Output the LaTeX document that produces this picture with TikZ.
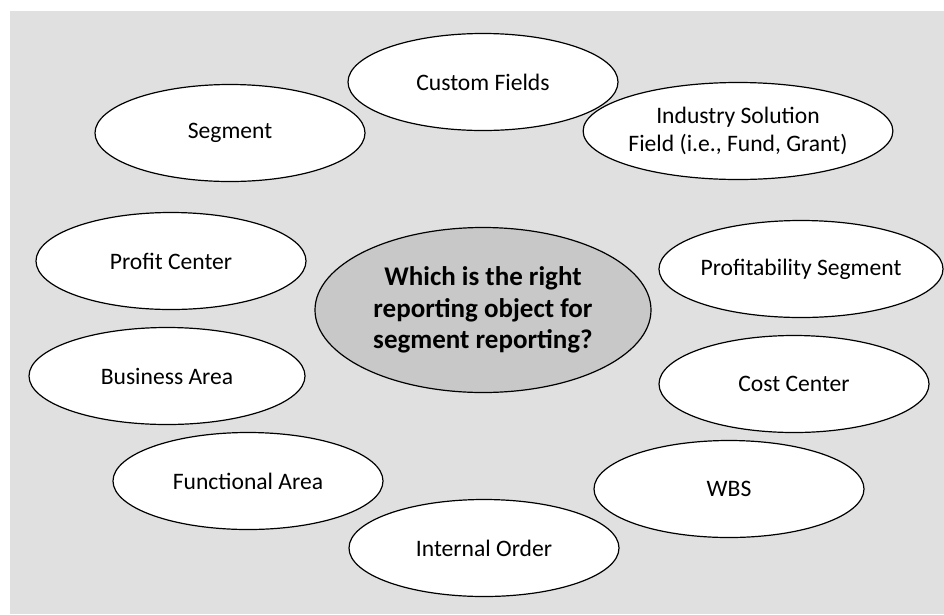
\documentclass[tikz,border=0pt]{standalone}
\usepackage{fontspec}
\setmainfont{Carlito}
\usepackage{tikz}
\usetikzlibrary{shapes.geometric}
\definecolor{backgray}{RGB}{224,224,224}
\definecolor{hubgray}{RGB}{200,200,200}
\tikzset{field/.style = {draw, ellipse, fill = white, line width = 1.2, inner sep = 0,
    minimum width = 270, minimum height = 97, align = center,
    font = \fontsize{23.6}{27.5}\selectfont}}
\tikzset{hub/.style = {draw, ellipse, fill = hubgray, line width = 1.2, inner sep = 0,
    minimum width = 336, minimum height = 165, align = center,
    font = \fontsize{27}{31.5}\selectfont\bfseries}}

\begin{document}
\begin{tikzpicture}[x = 1pt, y = -1pt]
    \useasboundingbox (0, 0) rectangle (944, 614);
    \fill [backgray] (10, 11) rectangle (944, 614);
    \node [hub] (q) at (483, 310) {Which is the right\\reporting object for\\segment reporting?};
    \node [field] (custom) at (483, 82) {Custom Fields};
    \node [field] (industry) at (738, 131) {Industry Solution\\Field (i.e., Fund, Grant)};
    \node [field] (segment) at (230, 133) {Segment};
    \node [field] (profit) at (171, 261) {Profit Center};
    \node [field] (copa) at (801, 269) {Profitability Segment};
    \node [field, minimum width = 276] (busarea) at (167, 376) {Business Area};
    \node [field] (cost) at (794, 384) {Cost Center};
    \node [field] (funcarea) at (248, 481) {Functional Area};
    \node [field] (wbs) at (729, 489) {WBS};
    \node [field] (order) at (484, 548) {Internal Order};
\end{tikzpicture}
\end{document}
